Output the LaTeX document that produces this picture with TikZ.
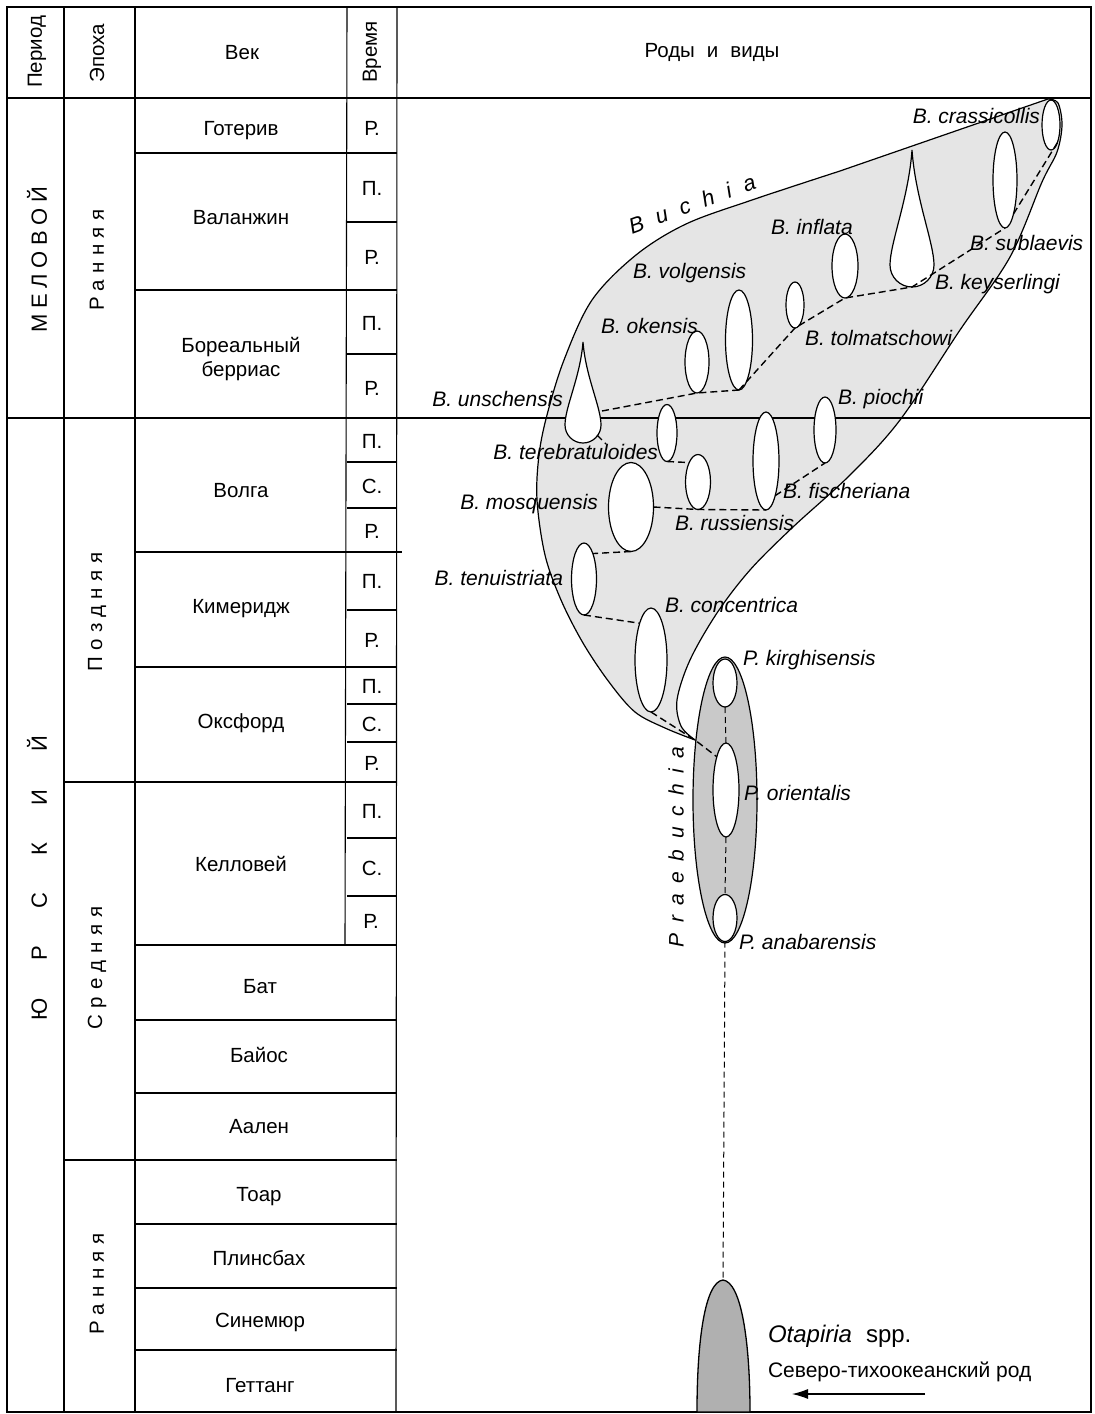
\documentclass[tikz,border=0pt]{standalone}
\usepackage{fontspec}
\setmainfont{Liberation Sans}
\usetikzlibrary{shapes.geometric,arrows.meta}
\begin{document}
\begin{tikzpicture}[x=1pt,y=-1pt,
  every node/.style={inner sep=0pt,outer sep=0pt},
  tl/.style={line width=1.1pt},
  tt/.style={font=\fontsize{20.5}{24}\selectfont},
  vt/.style={font=\fontsize{20.5}{24}\selectfont,rotate=90},
  per/.style={font=\fontsize{22}{24}\selectfont\addfontfeature{LetterSpace=#1},rotate=90},
  epo/.style={font=\fontsize{20.5}{24}\selectfont\addfontfeature{LetterSpace=#1},rotate=90},
  sp/.style={font=\fontsize{21}{24}\selectfont\itshape},
  spec/.style={ellipse,draw,fill=white,line width=1.2pt,inner sep=0pt},
  conn/.style={line width=1.4pt,dash pattern=on 7pt off 4pt},
  conn2/.style={line width=1pt,dash pattern=on 6pt off 4pt},
]
\useasboundingbox (0,0) rectangle (1095,1414);
\fill[white] (0,0) rectangle (1095,1414);

% Buchia envelope
\path[draw,fill=gray!20,line width=1.2pt]
  (695,740) -- plot[smooth,tension=0.55] coordinates {(695,740) (665,728) (635,712) (609,682) (583,643) (561,600) (545,555) (537,500) (539,455) (547,415) (564,360) (592,300) (636,255) (686,224) (752,200) (840,171)}
  -- (1048,99)
  -- plot[smooth,tension=0.55] coordinates {(1048,99) (1058,103) (1062,125) (1057,152) (1042,182) (1010,257) (960,330) (900,420) (850,475) (793,527) (750,570) (717,613) (690,660) (677,700) (681,726) (695,740)}
  -- cycle;
\coordinate (J) at (695,740);

% table frame and lines
\draw[tl] (7,7) rectangle (1091,1412);
\draw[tl] (64,7) -- (64,1412);
\draw[tl] (135,7) -- (135,1412);
\draw[tl] (347,7) -- (345,945);
\draw[tl] (397,7) -- (396,1412);
\draw[tl] (7,98) -- (1091,98);
\draw[tl] (7,418) -- (1091,418);
\foreach \y in {153,290,667,945,1020,1093,1224,1288,1350} \draw[tl] (135,\y) -- (397,\y);
\draw[tl] (135,552) -- (402,552);
\foreach \y in {782,1160} \draw[tl] (64,\y) -- (397,\y);
\foreach \y in {222,354,462,508,610,704,742,838,896} \draw[tl] (347,\y) -- (397,\y);

% header
\node[vt] (hper) at (37,52) {Период};
\node[vt] (hepo) at (97,53) {Эпоха};
\node[tt] (hvek) at (242,53) {Век};
\node[vt] (hvr) at (372,52) {Время};
\node[tt] (hrod) at (712,52) {Роды\hspace{12pt}и\hspace{12pt}виды};

% periods / epochs
\node[per=26] (pmel) at (37,260) {МЕЛОВОЙ};
\node[per=170] (pyur) at (37,878) {ЮРСКИЙ};
\node[epo=31] (e1) at (97,260) {Ранняя};
\node[epo=31] (e2) at (97,612) {Поздняя};
\node[epo=33] (e3) at (97,968) {Средняя};
\node[epo=31] (e4) at (97,1284) {Ранняя};

% stages
\node[tt] (s1) at (241,131) {Готерив};
\node[tt] (s2) at (241,218) {Валанжин};
\node[tt,align=center] (s3) at (241,359) {Бореальный\\берриас};
\node[tt] (s4) at (241,491) {Волга};
\node[tt] (s5) at (241,609) {Кимеридж};
\node[tt] (s6) at (241,723) {Оксфорд};
\node[tt] (s7) at (241,864) {Келловей};
\node[tt] (s8) at (260,987) {Бат};
\node[tt] (s9) at (259,1055) {Байос};
\node[tt] (s10) at (259,1127) {Аален};
\node[tt] (s11) at (259,1197) {Тоар};
\node[tt] (s12) at (259,1258) {Плинсбах};
\node[tt] (s13) at (260,1322) {Синемюр};
\node[tt] (s14) at (260,1386) {Геттанг};

% time subdivisions
\node[tt] (t1) at (372,128) {Р.};
\node[tt] (t2) at (372,188) {П.};
\node[tt] (t3) at (372,257) {Р.};
\node[tt] (t4) at (372,323) {П.};
\node[tt] (t5) at (372,388) {Р.};
\node[tt] (t6) at (372,441) {П.};
\node[tt] (t7) at (372,486) {С.};
\node[tt] (t8) at (372,531) {Р.};
\node[tt] (t9) at (372,581) {П.};
\node[tt] (t10) at (372,640) {Р.};
\node[tt] (t11) at (372,686) {П.};
\node[tt] (t12) at (372,724) {С.};
\node[tt] (t13) at (372,763) {Р.};
\node[tt] (t14) at (372,811) {П.};
\node[tt] (t15) at (372,868) {С.};
\node[tt] (t16) at (371,921) {Р.};

% Praebuchia envelope
\node[ellipse,draw,fill=gray!42,line width=1.2pt,minimum width=64,minimum height=286] (praeb) at (725,800) {};

% species ellipses
\node[spec,minimum width=18,minimum height=50] (cra) at (1051,125) {};
\node[spec,minimum width=24,minimum height=96] (sub) at (1005,180) {};
\node[spec,minimum width=26,minimum height=64] (inf) at (845,266) {};
\node[spec,minimum width=18,minimum height=46] (tol) at (795,305) {};
\node[spec,minimum width=27,minimum height=100] (vol) at (739,340) {};
\node[spec,minimum width=24,minimum height=62] (oke) at (697,362) {};
\node[spec,minimum width=20,minimum height=57] (ter) at (667,433) {};
\node[spec,minimum width=22,minimum height=66] (pio) at (825,430) {};
\node[spec,minimum width=26,minimum height=98] (fis) at (766,461) {};
\node[spec,minimum width=25,minimum height=55] (rus) at (698,482) {};
\node[spec,minimum width=45,minimum height=89] (mos) at (631,507) {};
\node[spec,minimum width=25,minimum height=72] (ten) at (584,579) {};
\node[spec,minimum width=32,minimum height=104] (con) at (651,660) {};
\node[spec,minimum width=24,minimum height=48] (kir) at (725,683) {};
\node[spec,minimum width=26,minimum height=94] (ori) at (726,790) {};
\node[spec,minimum width=24,minimum height=47] (ana) at (725,918) {};

% teardrops
\draw[fill=white,line width=1.2pt] (912,150) .. controls (915.3,198) and (934,243) .. (934,265)
  .. controls (934,277.1) and (924.1,287) .. (912,287)
  .. controls (899.9,287) and (890,277.1) .. (890,265)
  .. controls (890,243) and (908.7,198) .. cycle;
\coordinate (kys-b) at (912,287);
\draw[fill=white,line width=1.2pt] (583,342) .. controls (585.7,377) and (601,407) .. (601,425)
  .. controls (601,434.9) and (592.9,443) .. (583,443)
  .. controls (573.1,443) and (565,434.9) .. (565,425)
  .. controls (565,407) and (580.3,377) .. cycle;
\coordinate (uns-e) at (602,411);
\coordinate (uns-se) at (597,435);
\coordinate (uns-stub) at (606,444);

% Otapiria
\draw[fill=gray!62,line width=1.3pt] (697,1412) .. controls (697,1340) and (705,1282) .. (723,1280)
  .. controls (741,1282) and (750,1340) .. (750,1412) -- cycle;
\coordinate (ota) at (723,1280);

% connectors
\draw[conn] (uns-e) -- (oke.south) -- (vol.south);
\draw[conn] (vol.south) -- (tol.south) -- (inf.south) -- (kys-b) -- (sub.south);
\draw[conn] (sub.south east) -- (cra.south east);
\draw[conn] (uns-se) -- (uns-stub);
\draw[conn] (ter.south) -- (rus.north west);
\draw[conn] (mos.east) -- (rus.south) -- (fis.south);
\draw[conn] (fis.south east) -- (pio.south);
\draw[conn] (mos.south) -- (ten.north east);
\draw[conn] (ten.south) -- (con.north west);
\draw[conn] (con.south) -- (J) -- (ori.north west);
\draw[conn2] (kir.south) -- (ori.north);
\draw[conn2] (ori.south) -- (ana.north);
\draw[conn2] (ana.south) -- (ota);

% labels
\node[sp,anchor=east] (lcra) at (1040,116) {B. crassicollis};
\node[sp,anchor=west] (lsub) at (970,243) {B. sublaevis};
\node[sp,anchor=west] (lkys) at (935,284) {B. keyserlingi};
\node[sp,anchor=west] (linf) at (771,227) {B. inflata};
\node[sp,anchor=west] (lvol) at (633,273) {B. volgensis};
\node[sp,anchor=west] (loke) at (601,326) {B. okensis};
\node[sp,anchor=west] (ltol) at (805,338) {B. tolmatschowi};
\node[sp,anchor=east] (luns) at (563,399) {B. unschensis};
\node[sp,anchor=west] (lpio) at (838,399) {B. piochii};
\node[sp,anchor=east] (lter) at (658,452) {B. terebratuloides};
\node[sp,anchor=east] (lmos) at (598,504) {B. mosquensis};
\node[sp,anchor=west] (lfis) at (783,491) {B. fischeriana};
\node[sp,anchor=west] (lrus) at (675,523) {B. russiensis};
\node[sp,anchor=east] (lten) at (563,578) {B. tenuistriata};
\node[sp,anchor=west] (lcon) at (665,605) {B. concentrica};
\node[sp,anchor=west] (lkir) at (743,660) {P. kirghisensis};
\node[sp,anchor=west] (lori) at (744,793) {P. orientalis};
\node[sp,anchor=west] (lana) at (739,942) {P. anabarensis};
\node[font=\fontsize{22}{24}\selectfont\itshape\addfontfeature{LetterSpace=60},rotate=20] (lbuchia) at (692,204) {Buchia};
\node[font=\fontsize{21}{24}\selectfont\itshape\addfontfeature{LetterSpace=50},rotate=90] (lpraeb) at (676,847) {Praebuchia};

\node[anchor=west,font=\fontsize{24}{26}\selectfont] (lota) at (768,1336) {\textit{Otapiria}\hspace{14pt}spp.};
\node[anchor=west,font=\fontsize{21}{24}\selectfont] (lnp) at (768,1372) {Северо-тихоокеанский род};
\coordinate (arr-s) at (925,1394);
\coordinate (arr-e) at (792,1394);
\draw[line width=1.1pt,-{Latex[length=16pt,width=10pt]}] (arr-s) -- (arr-e);
\end{tikzpicture}
\end{document}
